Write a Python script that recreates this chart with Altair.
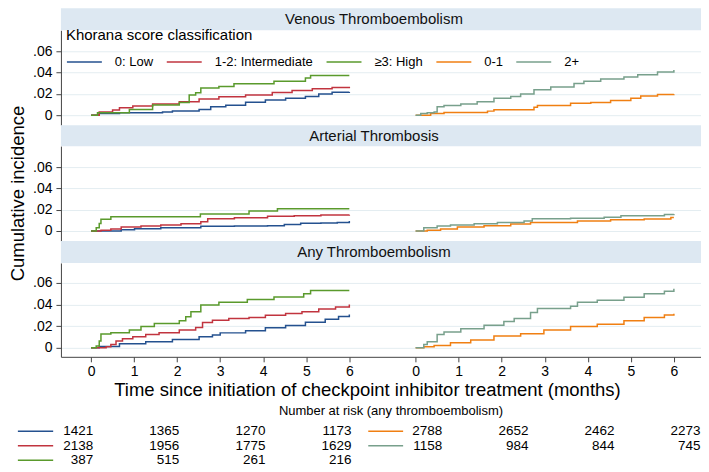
import altair as alt
import pandas as pd

# ---------------- categories ----------------
outcomes = ["Venous Thromboembolism", "Arterial Thrombosis", "Any Thromboembolism"]
groups_khorana = ["0: Low", "1-2: Intermediate", "≥3: High"]
groups_other = ["0-1", "2+"]
group_order = groups_khorana + groups_other
group_colors = ["#24518f", "#c1343f", "#5a9a2c", "#f07f12", "#78a08c"]
right_offset = 7.54  # right-hand panel starts here on the shared time axis
month_ticks = [0, 1, 2, 3, 4, 5, 6]

# ---------------- Venous thromboembolism ----------------
vte_low_t = [0, 0.19, 0.66, 1.66, 1.89, 2.51, 2.78, 3.13, 3.59, 4.05, 4.52, 4.98, 5.29, 5.60, 6.0]
vte_low_v = [0, 0.0016, 0.0022, 0.003, 0.004, 0.0054, 0.0078, 0.0094, 0.0122, 0.0142, 0.0158, 0.0176, 0.0198, 0.0216, 0.0219]
vte_int_t = [0, 0.19, 0.50, 0.66, 0.97, 1.43, 2.05, 2.51, 2.97, 3.59, 4.21, 4.67, 5.14, 5.60, 6.0]
vte_int_v = [0, 0.003, 0.0048, 0.007, 0.0086, 0.0104, 0.0126, 0.0152, 0.0172, 0.019, 0.0212, 0.0232, 0.0248, 0.026, 0.0268]
vte_high_t = [0, 0.15, 0.89, 1.43, 2.05, 2.28, 2.43, 2.55, 2.97, 3.32, 4.25, 4.98, 5.10, 6.0]
vte_high_v = [0, 0.0022, 0.0054, 0.0096, 0.0118, 0.019, 0.021, 0.0256, 0.027, 0.0295, 0.032, 0.035, 0.0372, 0.0372]
vte_01_t = [0, 0.35, 0.66, 1.67, 1.82, 2.75, 2.83, 3.60, 4.07, 4.53, 5.0, 5.23, 5.62, 6.0]
vte_01_v = [0, 0.0016, 0.0026, 0.0038, 0.005, 0.0074, 0.009, 0.0112, 0.012, 0.0138, 0.016, 0.018, 0.0195, 0.0197]
vte_2p_t = [0, 0.12, 0.27, 0.43, 0.50, 0.66, 1.05, 1.43, 1.82, 2.21, 2.44, 2.75, 3.14, 3.68, 3.91, 4.30, 4.84, 5.16, 5.62, 6.0]
vte_2p_v = [0, 0.0016, 0.0022, 0.003, 0.008, 0.009, 0.0106, 0.0125, 0.016, 0.0176, 0.020, 0.024, 0.0266, 0.0298, 0.032, 0.034, 0.036, 0.038, 0.0406, 0.0425]

# ---------------- Arterial thrombosis ----------------
at_low_t = [0, 0.70, 1.01, 1.62, 2.55, 3.33, 4.10, 4.49, 4.87, 5.34, 5.72, 6.0]
at_low_v = [0, 0.0012, 0.0022, 0.003, 0.0044, 0.0047, 0.005, 0.006, 0.0072, 0.0075, 0.008, 0.0094]
at_int_t = [0, 0.23, 0.46, 0.70, 1.16, 1.62, 2.09, 2.55, 2.71, 3.33, 4.10, 4.72, 5.34, 6.0]
at_int_v = [0, 0.0006, 0.0019, 0.0037, 0.0047, 0.0056, 0.0069, 0.0088, 0.0116, 0.0125, 0.0138, 0.0144, 0.015, 0.0153]
at_high_t = [0, 0.12, 0.19, 0.23, 0.46, 2.54, 3.67, 4.33, 6.0]
at_high_v = [0, 0.003, 0.007, 0.011, 0.0134, 0.016, 0.0188, 0.021, 0.021]
at_01_t = [0, 0.27, 0.58, 0.97, 1.59, 2.21, 2.67, 3.76, 4.53, 5.31, 5.93, 6.0]
at_01_v = [0, 0.0006, 0.0019, 0.0037, 0.005, 0.0066, 0.008, 0.0094, 0.0106, 0.0112, 0.0128, 0.0128]
at_2p_t = [0, 0.19, 0.50, 0.81, 1.36, 1.90, 2.52, 2.71, 3.60, 4.38, 4.77, 5.78, 6.0]
at_2p_v = [0, 0.003, 0.0047, 0.0056, 0.0069, 0.008, 0.0094, 0.0116, 0.012, 0.013, 0.0144, 0.0156, 0.016]

# ---------------- Any thromboembolism ----------------
any_low_t = [0, 0.19, 0.66, 1.27, 1.89, 2.51, 2.82, 3.0, 3.59, 4.05, 4.52, 4.98, 5.44, 5.75, 6.0]
any_low_v = [0, 0.0012, 0.0037, 0.0056, 0.0078, 0.0102, 0.0118, 0.0138, 0.0158, 0.0185, 0.0205, 0.0236, 0.0264, 0.0289, 0.0308]
any_int_t = [0, 0.35, 0.46, 0.58, 0.73, 0.97, 1.27, 1.58, 2.05, 2.43, 2.59, 2.82, 3.20, 3.67, 4.05, 4.52, 4.90, 5.29, 5.68, 6.0]
any_int_v = [0, 0.0009, 0.0031, 0.0062, 0.0084, 0.0103, 0.0124, 0.014, 0.0165, 0.0187, 0.0233, 0.0255, 0.027, 0.028, 0.030, 0.0317, 0.0333, 0.0358, 0.0376, 0.040]
any_high_t = [0, 0.12, 0.19, 0.23, 0.46, 0.89, 1.16, 1.47, 2.05, 2.20, 2.32, 2.55, 2.97, 3.63, 4.25, 4.94, 5.10, 6.0]
any_high_v = [0, 0.0016, 0.0062, 0.0128, 0.014, 0.0165, 0.0196, 0.0224, 0.0249, 0.0286, 0.0333, 0.0395, 0.042, 0.0445, 0.047, 0.0498, 0.053, 0.053]
any_01_t = [0, 0.19, 0.43, 0.81, 1.28, 1.82, 2.44, 2.98, 3.60, 4.22, 4.84, 5.31, 5.78, 6.0]
any_01_v = [0, 0.0009, 0.0022, 0.0047, 0.0072, 0.0109, 0.0131, 0.0165, 0.0196, 0.0218, 0.0249, 0.028, 0.0302, 0.0314]
any_2p_t = [0, 0.19, 0.27, 0.50, 0.66, 1.05, 1.59, 2.05, 2.29, 2.67, 2.83, 3.60, 3.76, 4.22, 4.84, 5.31, 5.78, 6.0]
any_2p_v = [0, 0.0031, 0.0056, 0.0124, 0.0146, 0.0177, 0.0208, 0.0243, 0.027, 0.0327, 0.0364, 0.0383, 0.042, 0.0439, 0.0467, 0.0498, 0.0523, 0.0544]

# ---------------- Number at risk (any thromboembolism) ----------------
risk_times = [0, 2, 4, 6]
risk_low = [1421, 1365, 1270, 1173]
risk_int = [2138, 1956, 1775, 1629]
risk_high = [387, 515, 261, 216]
risk_01 = [2788, 2652, 2462, 2273]
risk_2p = [1158, 984, 844, 745]

# ---------------- build tables ----------------
series = [
    (outcomes[0], "0: Low", vte_low_t, vte_low_v),
    (outcomes[0], "1-2: Intermediate", vte_int_t, vte_int_v),
    (outcomes[0], "≥3: High", vte_high_t, vte_high_v),
    (outcomes[0], "0-1", vte_01_t, vte_01_v),
    (outcomes[0], "2+", vte_2p_t, vte_2p_v),
    (outcomes[1], "0: Low", at_low_t, at_low_v),
    (outcomes[1], "1-2: Intermediate", at_int_t, at_int_v),
    (outcomes[1], "≥3: High", at_high_t, at_high_v),
    (outcomes[1], "0-1", at_01_t, at_01_v),
    (outcomes[1], "2+", at_2p_t, at_2p_v),
    (outcomes[2], "0: Low", any_low_t, any_low_v),
    (outcomes[2], "1-2: Intermediate", any_int_t, any_int_v),
    (outcomes[2], "≥3: High", any_high_t, any_high_v),
    (outcomes[2], "0-1", any_01_t, any_01_v),
    (outcomes[2], "2+", any_2p_t, any_2p_v),
]
rows = []
for outcome, grp, ts, vs in series:
    shift = right_offset if grp in groups_other else 0.0
    for t, v in zip(ts, vs):
        rows.append({"outcome": outcome, "group": grp, "t": t, "x": t + shift, "v": v})
df = pd.DataFrame(rows)

W = 641
FONT = "Liberation Sans"
x_domain = [-0.7, 14.17]
xscale = alt.Scale(domain=x_domain, nice=False, zero=False)
cscale = alt.Scale(domain=group_order, range=group_colors)
strip_fill = "#dde8f2"
grid_col = "#e4edf1"
axis_col = "#444444"

yaxis = alt.Axis(
    values=[0, 0.02, 0.04, 0.06],
    labelExpr="datum.value == 0 ? '0' : replace(format(datum.value, '.2f'), '0.', '.')",
    title=None, grid=True, gridColor=grid_col, domainColor=axis_col, tickColor=axis_col,
    tickSize=5, labelFontSize=14, labelColor="black", labelPadding=4,
)

x_tick_values = month_ticks + [m + right_offset for m in month_ticks]
xaxis = alt.Axis(
    values=x_tick_values,
    labelExpr=f"datum.value < 7 ? format(datum.value, 'd') : format(datum.value - {right_offset}, '.0f')",
    title="Time since initiation of checkpoint inhibitor treatment (months)",
    titleFontSize=18.5, titleFontWeight="normal", titleColor="black", titlePadding=2,
    titleX=306.5,
    grid=False, domainColor=axis_col, tickColor=axis_col, tickSize=5,
    labelFontSize=14, labelColor="black", labelPadding=3,
)

legend = alt.Legend(
    orient="none", legendX=5, legendY=-2, direction="horizontal",
    title="Khorana score classification", titleFontSize=15, titleFontWeight="normal",
    titleColor="black", titlePadding=0, labelFontSize=13, labelColor="black",
    symbolType="stroke", symbolSize=1225, symbolStrokeWidth=1.5, labelOffset=12,
    columnPadding=10, padding=0, labelLimit=300, titleLimit=400,
)


def strip(title, h):
    d = pd.DataFrame({"label": [title]})
    base = alt.Chart(d)
    rect = base.mark_rect(color=strip_fill).encode(
        x=alt.value(0), x2=alt.value(W), y=alt.value(0), y2=alt.value(h)
    )
    txt = base.mark_text(fontSize=15, color="#111111", baseline="middle").encode(
        text="label:N", x=alt.value(313.5), y=alt.value(h / 2)
    )
    return alt.layer(rect, txt).properties(width=W, height=h)


def panel(outcome, h, ydom, show_x, leg):
    d = df[df.outcome == outcome]
    line = alt.Chart(d).mark_line(interpolate="step-after", strokeWidth=1.5).encode(
        x=alt.X("x:Q", scale=xscale, axis=xaxis if show_x else None),
        y=alt.Y("v:Q", scale=alt.Scale(domain=ydom, nice=False, zero=False), axis=yaxis),
        color=alt.Color("group:N", scale=cscale, legend=leg),
    )
    return line.properties(width=W, height=h)


row1 = panel(outcomes[0], 95, [-0.0094, 0.0798], False, legend)
row2_lines = panel(outcomes[1], 95, [-0.0094, 0.0798], False, None)
ytitle = alt.Chart(pd.DataFrame({"label": ["Cumulative incidence"]})).mark_text(
    angle=270, baseline="top", align="center", fontSize=18.5, color="black"
).encode(text="label:N", x=alt.value(-52), y=alt.value(47.5))
row2 = alt.layer(row2_lines, ytitle).properties(width=W, height=95)
row3 = panel(outcomes[2], 94, [-0.0083, 0.0783], True, None)

# number-at-risk table (sits below the x axis of the last panel)
table_dx_left = 0.05
table_dx_right = 0.62
tab = []
keys = []
for i, (grp, counts) in enumerate(zip(groups_khorana, [risk_low, risk_int, risk_high])):
    keys.append({"group": grp, "row": i, "x1": -1.7, "x2": -0.88})
    for t, n in zip(risk_times, counts):
        tab.append({"group": grp, "row": i, "x": t + table_dx_left, "n": str(n)})
for i, (grp, counts) in enumerate(zip(groups_other, [risk_01, risk_2p])):
    keys.append({"group": grp, "row": i, "x1": right_offset - 1.1, "x2": right_offset - 0.29})
    for t, n in zip(risk_times, counts):
        tab.append({"group": grp, "row": i, "x": t + right_offset + table_dx_right, "n": str(n)})
tab_df = pd.DataFrame(tab)
key_df = pd.DataFrame(keys)

TH = 110
row_px0, row_step = 74.5, 14.5
rscale = alt.Scale(domain=[-row_px0 / row_step, (TH - row_px0) / row_step], reverse=True, nice=False, zero=False)
nums = alt.Chart(tab_df).mark_text(align="right", baseline="middle", fontSize=13.5, color="black").encode(
    x=alt.X("x:Q", scale=xscale, axis=None),
    y=alt.Y("row:Q", scale=rscale, axis=None),
    text="n:N",
)
keyl = alt.Chart(key_df).mark_rule(strokeWidth=1.5).encode(
    x=alt.X("x1:Q", scale=xscale, axis=None),
    x2="x2:Q",
    y=alt.Y("row:Q", scale=rscale, axis=None),
    color=alt.Color("group:N", scale=cscale, legend=None),
)
nar = alt.Chart(pd.DataFrame({"label": ["Number at risk (any thromboembolism)"]})).mark_text(
    fontSize=13, color="black", baseline="middle"
).encode(text="label:N", x=alt.value(330.5), y=alt.value(54))
table = alt.layer(keyl, nums, nar).properties(width=W, height=TH)

chart = alt.vconcat(
    strip(outcomes[0], 22), row1,
    strip(outcomes[1], 21), row2,
    strip(outcomes[2], 22), row3,
    table,
    spacing=0, bounds="flush",
).resolve_scale(color="independent").properties(padding=0).configure(
    font=FONT
).configure_view(strokeWidth=0)

chart.save("out.html", embed_options={"renderer": "svg", "actions": False})
